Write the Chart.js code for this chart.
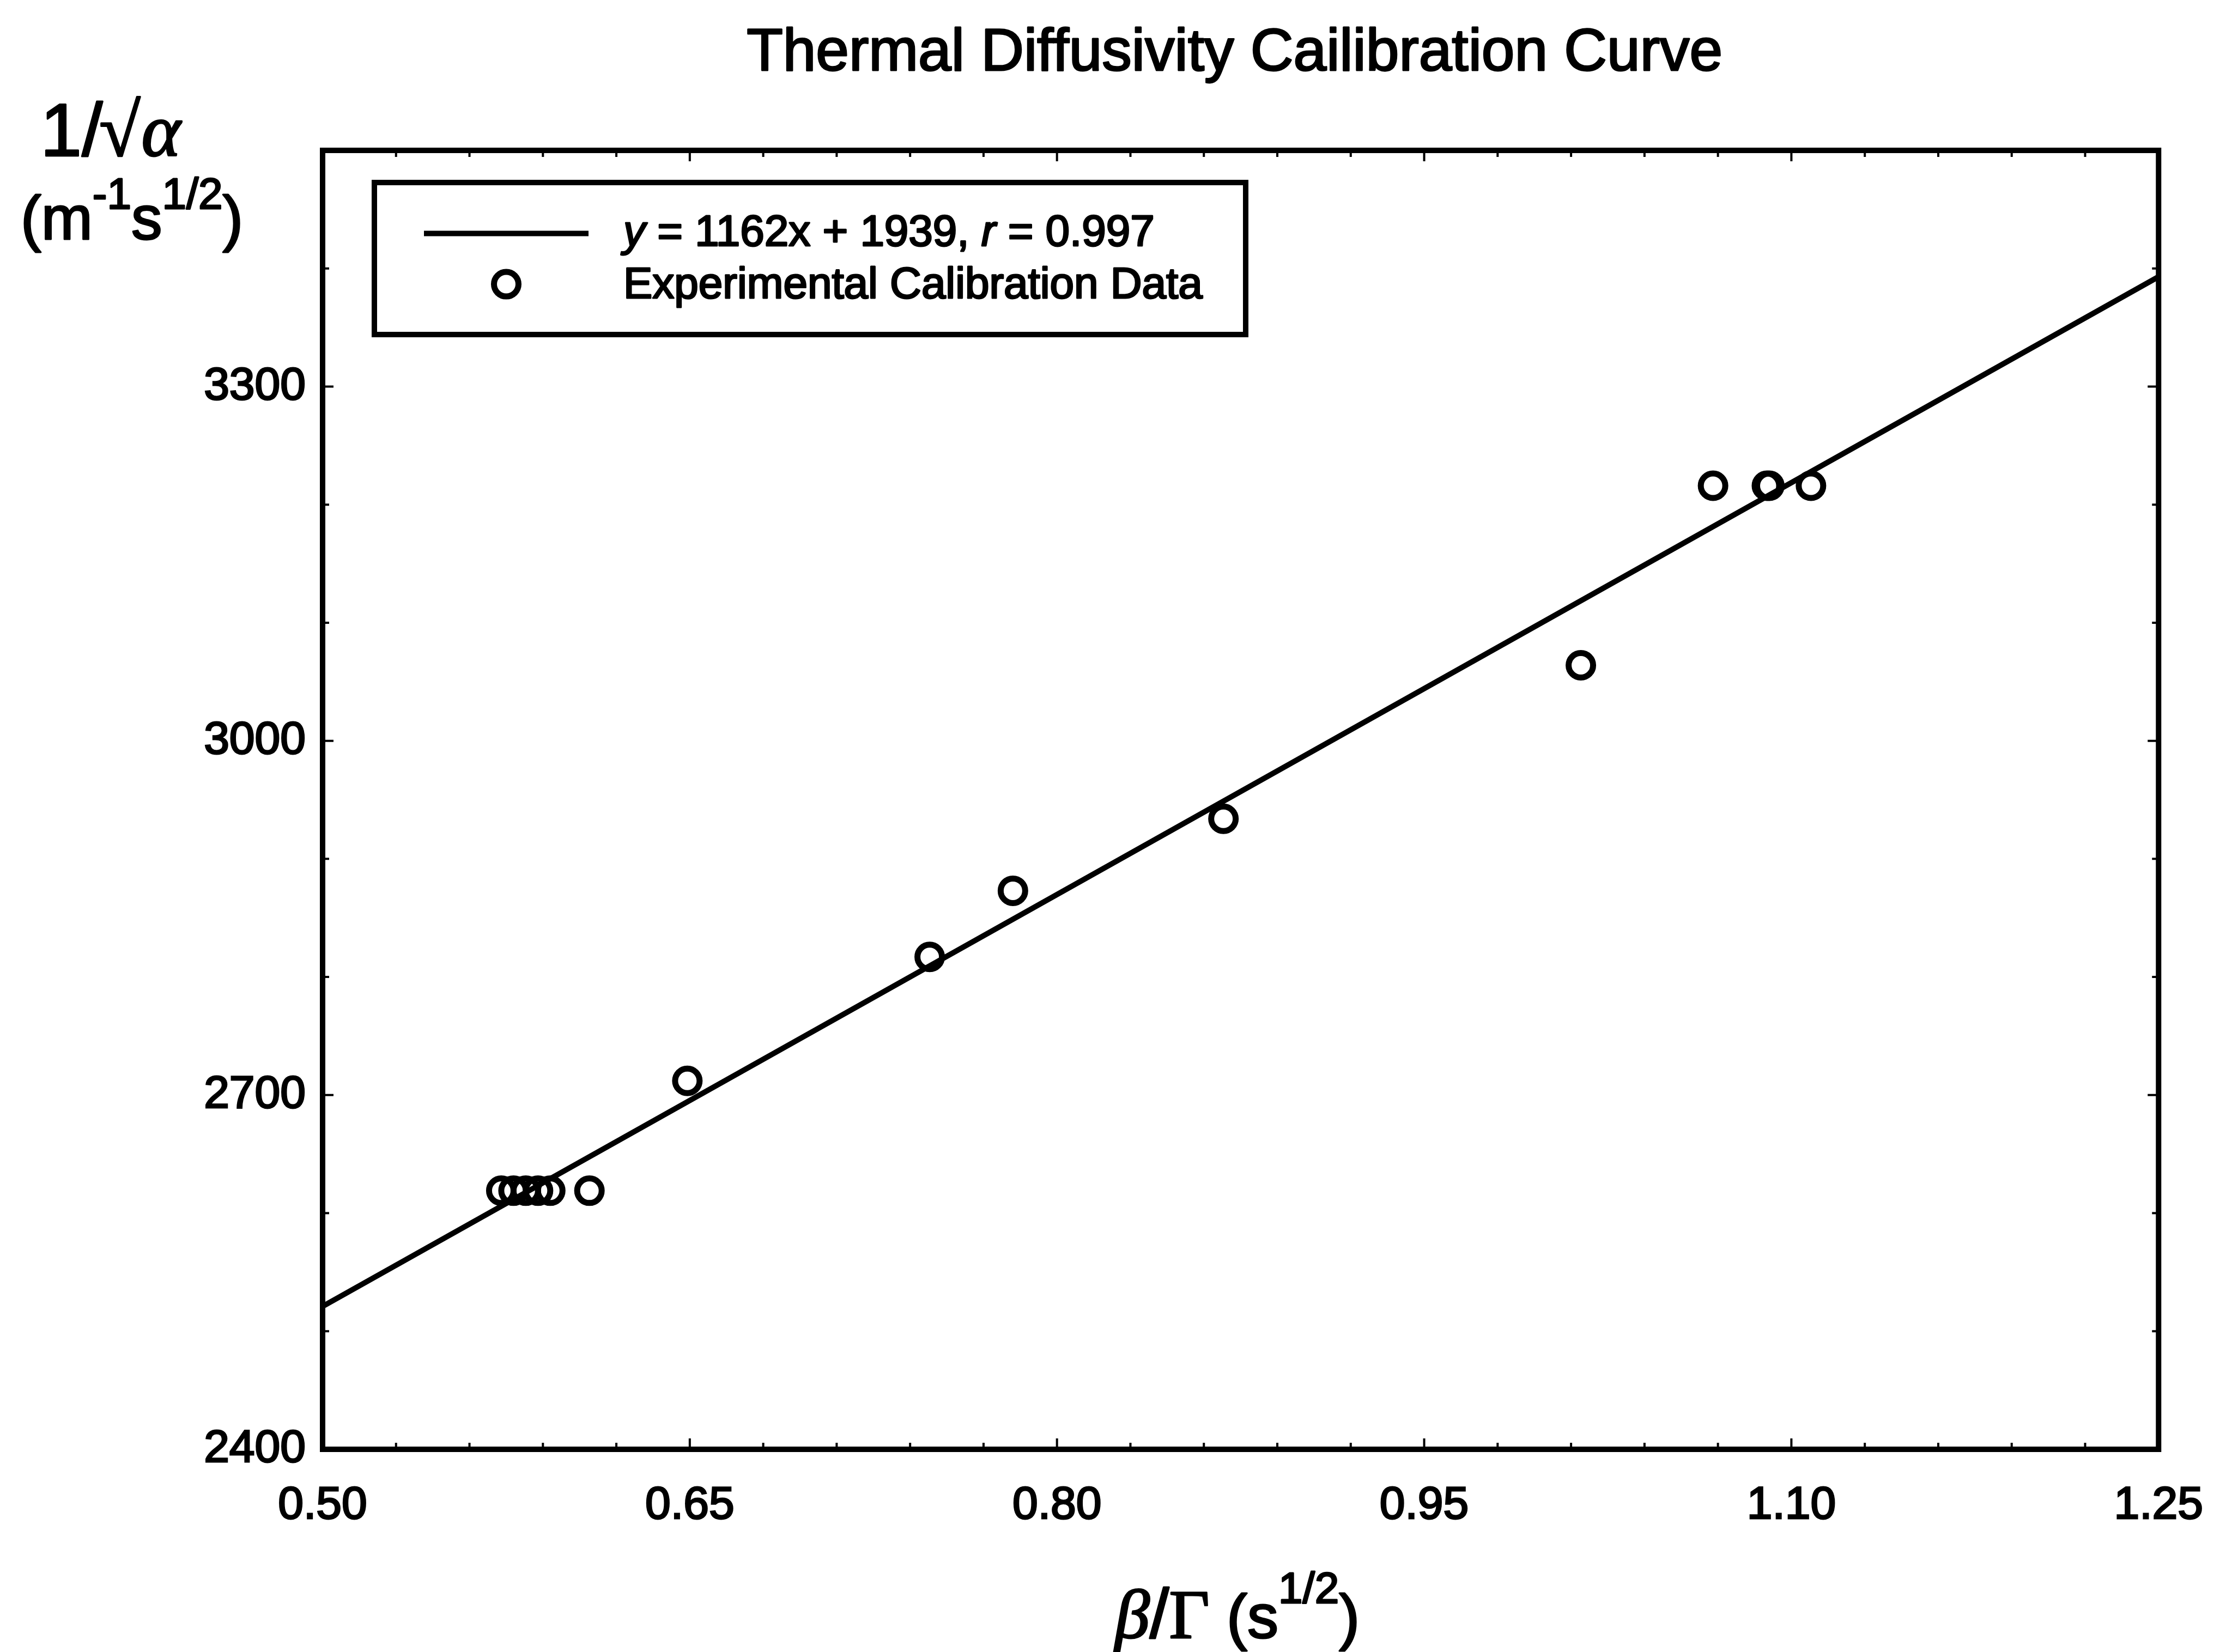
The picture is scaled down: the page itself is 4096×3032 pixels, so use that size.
<!DOCTYPE html>
<html>
<head>
<meta charset="utf-8">
<script src="https://cdn.jsdelivr.net/npm/chart.js@4.4.1/dist/chart.umd.min.js"></script>
<style>
  html, body { margin: 0; padding: 0; background: #ffffff; }
  #wrap { width: 4096px; height: 3032px; }
</style>
</head>
<body>
<div id="wrap"><canvas id="c" width="4096" height="3032"></canvas></div>
<script>
// ---- data ----
const calX = [0.573, 0.578, 0.583, 0.588, 0.593, 0.609, 0.649, 0.748, 0.782, 0.868, 1.014, 1.068, 1.090, 1.091, 1.108];
const calY = [2619, 2619, 2619, 2619, 2619, 2619, 2712, 2817, 2873, 2934, 3064, 3216, 3216, 3216, 3216];
const fitX = [0.50, 1.25];
const fitY = [2521, 3393];
const xTicks = [0.50, 0.65, 0.80, 0.95, 1.10, 1.25];
const yTicks = [2400, 2700, 3000, 3300];
const xMinor = [0.53, 0.56, 0.59, 0.62, 0.68, 0.71, 0.74, 0.77, 0.83, 0.86, 0.89, 0.92, 0.98, 1.01, 1.04, 1.07, 1.13, 1.16, 1.19, 1.22];
const yMinor = [2500, 2600, 2800, 2900, 3100, 3200, 3400];
const xRange = [0.50, 1.25];
const yRange = [2400, 3500];
const titleText = 'Thermal Diffusivity Cailibration Curve';
const fitLabel = [['y', true], [' = 1162x + 1939, ', false], ['r', true], [' = 0.997', false]];
const dataLabel = 'Experimental Calibration Data';

const SANS = "'Liberation Sans', Arial, Helvetica, sans-serif";
const SERIF = "'Liberation Serif', 'DejaVu Serif', serif";
const HEAVY = 3; // extra stroke to mimic the heavy printed glyphs

function runWidth(ctx, runs) {
  let w = 0;
  for (const r of runs) { ctx.font = r.f; w += ctx.measureText(r.t).width + (r.dx || 0); }
  return w;
}
function drawRuns(ctx, runs, x, y) {
  ctx.textAlign = 'left';
  ctx.textBaseline = 'alphabetic';
  ctx.lineWidth = HEAVY;
  ctx.lineJoin = 'round';
  for (const r of runs) {
    ctx.font = r.f;
    ctx.fillText(r.t, x, y - (r.dy || 0));
    ctx.strokeText(r.t, x, y - (r.dy || 0));
    x += ctx.measureText(r.t).width + (r.dx || 0);
  }
  return x;
}

const decorPlugin = {
  id: 'decor',
  afterDraw(chart) {
    const ctx = chart.ctx, a = chart.chartArea;
    const xs = chart.scales.x, ys = chart.scales.y;
    ctx.save();
    ctx.strokeStyle = '#000';
    ctx.fillStyle = '#000';
    // inward tick marks on all four sides
    ctx.lineWidth = 4;
    const MAJ = 20, MIN = 12;
    const xt = (vals, len) => vals.forEach(v => {
      const px = xs.getPixelForValue(v);
      ctx.beginPath();
      ctx.moveTo(px, a.bottom); ctx.lineTo(px, a.bottom - len);
      ctx.moveTo(px, a.top); ctx.lineTo(px, a.top + len);
      ctx.stroke();
    });
    const yt = (vals, len) => vals.forEach(v => {
      const py = ys.getPixelForValue(v);
      ctx.beginPath();
      ctx.moveTo(a.left, py); ctx.lineTo(a.left + len, py);
      ctx.moveTo(a.right, py); ctx.lineTo(a.right - len, py);
      ctx.stroke();
    });
    xt(xTicks, MAJ); xt(xMinor, MIN);
    yt(yTicks, MAJ); yt(yMinor, MIN);
    // frame
    ctx.lineWidth = 10;
    ctx.strokeRect(a.left, a.top, a.right - a.left, a.bottom - a.top);

    // legend
    const lx = a.left + 95, ly = a.top + 59, lw = 1599, lh = 279;
    ctx.fillStyle = '#fff';
    ctx.fillRect(lx, ly, lw, lh);
    ctx.fillStyle = '#000';
    ctx.lineWidth = 10;
    ctx.strokeRect(lx, ly, lw, lh);
    const fitDs = chart.data.datasets[0], calDs = chart.data.datasets[1];
    ctx.lineWidth = fitDs.borderWidth;
    ctx.beginPath();
    ctx.moveTo(a.left + 186, a.top + 152.5);
    ctx.lineTo(a.left + 488, a.top + 152.5);
    ctx.stroke();
    ctx.lineWidth = calDs.borderWidth;
    ctx.beginPath();
    ctx.arc(a.left + 337, a.top + 245.6, calDs.pointRadius, 0, Math.PI * 2);
    ctx.stroke();
    const LF = 80;
    drawRuns(ctx, fitLabel.map(([t, it]) => ({ t, f: (it ? 'italic ' : '') + LF + 'px ' + SANS })), a.left + 552, a.top + 174.7);
    drawRuns(ctx, [{ t: dataLabel, f: LF + 'px ' + SANS }], a.left + 552, a.top + 271);

    // title
    const tr = [{ t: titleText, f: '109px ' + SANS }];
    const tw = runWidth(ctx, tr);
    drawRuns(ctx, tr, (a.left + a.right) / 2 - 11 - tw / 2, 129);

    // y axis title (two lines, horizontal, top-left)
    drawRuns(ctx, [
      { t: '1/', f: '137px ' + SANS, dx: -6 },
      { t: '\u221A', f: '137px ' + SERIF, dx: 2 },
      { t: '\u03B1', f: 'italic 137px ' + SERIF }
    ], 74, 286);
    drawRuns(ctx, [
      { t: '(m', f: '113px ' + SANS },
      { t: '-1', f: '80px ' + SANS, dy: 56 },
      { t: 's', f: '113px ' + SANS },
      { t: '1/2', f: '80px ' + SANS, dy: 56 },
      { t: ')', f: '113px ' + SANS }
    ], 38, 439);

    // x axis title
    const xr = [
      { t: '\u03B2', f: 'italic 128px ' + SERIF },
      { t: '/', f: '128px ' + SANS },
      { t: '\u0393', f: '128px ' + SERIF },
      { t: ' (s', f: '114px ' + SANS },
      { t: '1/2', f: '80px ' + SANS, dy: 64 },
      { t: ')', f: '114px ' + SANS }
    ];
    const xw = runWidth(ctx, xr);
    drawRuns(ctx, xr, (a.left + a.right) / 2 - 6 - xw / 2, 3006);
    ctx.restore();
  }
};

const ctxc = document.getElementById('c').getContext('2d');
new Chart(ctxc, {
  type: 'scatter',
  data: {
    datasets: [
      {
        label: 'fit',
        data: fitX.map((v, i) => ({ x: v, y: fitY[i] })),
        showLine: true,
        borderColor: '#000',
        borderWidth: 10,
        pointRadius: 0,
        pointHoverRadius: 0,
        tension: 0,
        fill: false
      },
      {
        label: dataLabel,
        data: calX.map((v, i) => ({ x: v, y: calY[i] })),
        showLine: false,
        pointStyle: 'circle',
        pointRadius: 22.5,
        pointHoverRadius: 22.5,
        borderWidth: 11,
        borderColor: '#000',
        backgroundColor: 'rgba(0,0,0,0)'
      }
    ]
  },
  options: {
    responsive: false,
    animation: false,
    devicePixelRatio: 1,
    events: [],
    layout: { padding: { left: 0, top: 276, right: 133, bottom: 0 } },
    plugins: {
      legend: { display: false },
      title: { display: false },
      tooltip: { enabled: false }
    },
    scales: {
      x: {
        type: 'linear',
        min: xRange[0], max: xRange[1],
        afterFit: s => { s.height = 372; },
        afterBuildTicks: s => { s.ticks = xTicks.map(v => ({ value: v })); },
        grid: { display: false, drawTicks: false },
        border: { display: false },
        ticks: {
          padding: 53,
          color: '#000',
          textStrokeColor: '#000',
          textStrokeWidth: HEAVY,
          font: { family: SANS, size: 84 },
          maxRotation: 0,
          callback: v => Number(v).toFixed(2)
        }
      },
      y: {
        type: 'linear',
        min: yRange[0], max: yRange[1],
        afterFit: s => { s.width = 592; },
        afterBuildTicks: s => { s.ticks = yTicks.map(v => ({ value: v })); },
        grid: { display: false, drawTicks: false },
        border: { display: false },
        ticks: {
          padding: 31,
          color: '#000',
          textStrokeColor: '#000',
          textStrokeWidth: HEAVY,
          font: { family: SANS, size: 84 },
          callback: v => String(v)
        }
      }
    }
  },
  plugins: [decorPlugin]
});
</script>
</body>
</html>
